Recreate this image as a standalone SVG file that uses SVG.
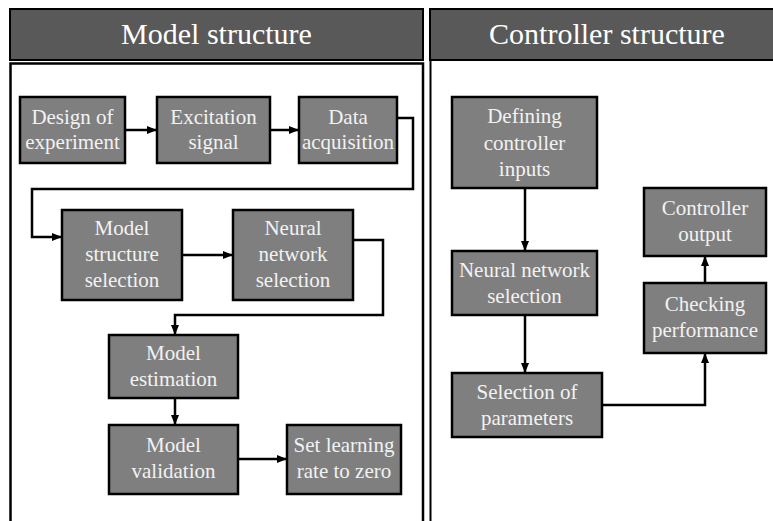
<svg xmlns="http://www.w3.org/2000/svg" width="773" height="521" viewBox="0 0 773 521">
<style>
.hdr{fill:#595959;stroke:#000;stroke-width:2}
.panel{fill:#fff;stroke:#000;stroke-width:2.5}
.box{fill:#7f7f7f;stroke:#000;stroke-width:2.5}
.ht{font-size:30px;fill:#fff;text-anchor:middle}
.t{font-size:21px;fill:#f2f2f2;text-anchor:middle}
.c{fill:none;stroke:#000;stroke-width:2.5;marker-end:url(#ah)}
</style>
<defs>
<marker id="ah" viewBox="0 0 10 8" refX="10" refY="4" markerWidth="10" markerHeight="8" markerUnits="userSpaceOnUse" orient="auto">
<path d="M0,0 L10,4 L0,8 Z" fill="#000"/>
</marker>
</defs>
<rect width="773" height="521" fill="#fff"/>
<g font-family="Liberation Serif, serif">
<g id="model-panel">
<rect class="hdr" x="10" y="9" width="413" height="51"/>
<text class="ht" x="216.5" y="44">Model structure</text>
<rect class="panel" x="10.5" y="63.5" width="412.5" height="470"/>
</g>
<g id="controller-panel">
<rect class="hdr" x="430" y="9" width="360" height="51"/>
<text class="ht" x="607" y="44">Controller structure</text>
<line x1="430.5" y1="60" x2="430.5" y2="521" stroke="#000" stroke-width="2"/>
</g>
<g id="connectors">
<path class="c" d="M125,130 H157"/>
<path class="c" d="M270,130 H299"/>
<path class="c" d="M397,118 H413 V189 H32 V237 H62"/>
<path class="c" d="M182,255 H233"/>
<path class="c" d="M353,240 H383 V315 H175 V335"/>
<path class="c" d="M175,398 V425"/>
<path class="c" d="M238,459 H287"/>
<path class="c" d="M525,188 V251"/>
<path class="c" d="M525,315 V373"/>
<path class="c" d="M602,405 H705 V353"/>
<path class="c" d="M705,283 V256"/>
</g>
<g id="n-design">
<rect class="box" x="20" y="97" width="105" height="66"/>
<text class="t" x="72.5" y="124">Design of</text>
<text class="t" x="72.5" y="149">experiment</text>
</g>
<g id="n-excitation">
<rect class="box" x="157" y="97" width="113" height="66"/>
<text class="t" x="213.5" y="124">Excitation</text>
<text class="t" x="213.5" y="149">signal</text>
</g>
<g id="n-data">
<rect class="box" x="299" y="97" width="98" height="66"/>
<text class="t" x="348" y="124">Data</text>
<text class="t" x="348" y="149">acquisition</text>
</g>
<g id="n-model-structure">
<rect class="box" x="62" y="210" width="120" height="90"/>
<text class="t" x="122" y="235">Model</text>
<text class="t" x="122" y="261">structure</text>
<text class="t" x="122" y="287">selection</text>
</g>
<g id="n-neural-model">
<rect class="box" x="233" y="210" width="120" height="90"/>
<text class="t" x="293" y="235">Neural</text>
<text class="t" x="293" y="261">network</text>
<text class="t" x="293" y="287">selection</text>
</g>
<g id="n-estimation">
<rect class="box" x="109" y="335" width="129" height="63"/>
<text class="t" x="173.5" y="360">Model</text>
<text class="t" x="173.5" y="386">estimation</text>
</g>
<g id="n-validation">
<rect class="box" x="109" y="425" width="129" height="69"/>
<text class="t" x="173.5" y="452">Model</text>
<text class="t" x="173.5" y="478">validation</text>
</g>
<g id="n-learning">
<rect class="box" x="287" y="425" width="114" height="69"/>
<text class="t" x="344" y="452">Set learning</text>
<text class="t" x="344" y="478">rate to zero</text>
</g>
<g id="n-defining">
<rect class="box" x="452" y="97" width="145" height="91"/>
<text class="t" x="524.5" y="123">Defining</text>
<text class="t" x="524.5" y="150">controller</text>
<text class="t" x="524.5" y="176">inputs</text>
</g>
<g id="n-neural-ctrl">
<rect class="box" x="452" y="251" width="145" height="64"/>
<text class="t" x="524.5" y="277">Neural network</text>
<text class="t" x="524.5" y="303">selection</text>
</g>
<g id="n-parameters">
<rect class="box" x="452" y="373" width="150" height="64"/>
<text class="t" x="527" y="399">Selection of</text>
<text class="t" x="527" y="425">parameters</text>
</g>
<g id="n-checking">
<rect class="box" x="644" y="283" width="122" height="70"/>
<text class="t" x="705" y="311">Checking</text>
<text class="t" x="705" y="337">performance</text>
</g>
<g id="n-output">
<rect class="box" x="644" y="188" width="122" height="68"/>
<text class="t" x="705" y="215">Controller</text>
<text class="t" x="705" y="241">output</text>
</g>
</g>
</svg>
